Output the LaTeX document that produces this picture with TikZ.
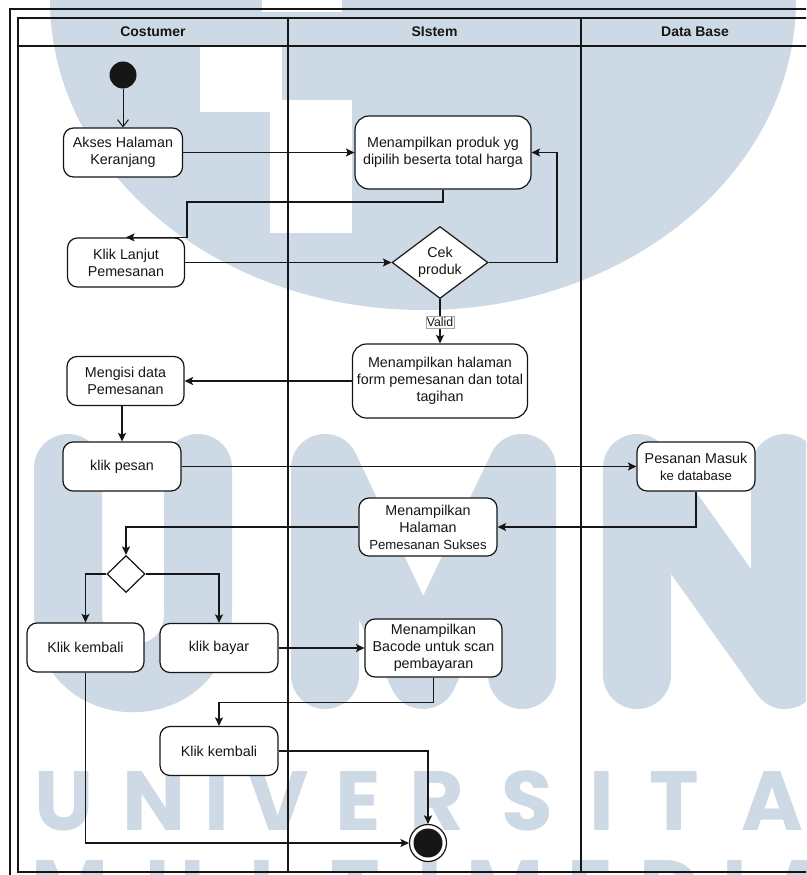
\documentclass[tikz,border=0pt]{standalone}
\usepackage{fontspec}
\setmainfont{Liberation Sans}
\newfontfamily\wmfont{Poppins}
\usetikzlibrary{arrows.meta,shapes.geometric}

\definecolor{wm}{RGB}{205,217,228}
\definecolor{ink}{RGB}{22,22,22}

\newcommand\fsz{\fontsize{14.3pt}{17pt}\selectfont}
\newcommand\fsm{\fontsize{13.2pt}{16pt}\selectfont}
\newcommand\fhd{\fontsize{14pt}{17pt}\selectfont\bfseries}
\newcommand\fvl{\fontsize{12.3pt}{14pt}\selectfont}

\tikzset{
  act/.style={draw=ink, line width=1.2pt, fill=white, rounded corners=10pt,
              align=center, font=\fsz, text=ink, inner sep=0pt},
  dec/.style={draw=ink, line width=1.2pt, fill=white, diamond, inner sep=0pt},
  arr/.style={draw=ink, line width=1.15pt,
              -{Stealth[length=8.5pt,width=8pt,inset=1.8pt]}},
  arropen/.style={draw=ink, line width=1pt, -{Straight Barb[length=7pt,width=11pt]}},
  lane/.style={draw=ink, line width=1.2pt},
  hd/.style={font=\fhd, text=ink},
  guard/.style={fill=white, draw=black!35, line width=0.5pt, font=\fvl,
                text=ink, inner xsep=1pt, inner ysep=1.2pt},
  wmbar/.style={draw=wm, line width=68pt, line cap=round, line join=round},
  wmletter/.style={text=wm, font=\wmfont\bfseries\fontsize{84pt}{84pt}\selectfont,
                   anchor=base, inner sep=0pt},
}

\begin{document}
\begin{tikzpicture}[x=1pt,y=-1pt]
\clip (0,0) rectangle (806,875);
\fill[white] (0,0) rectangle (806,875);

% ---- faint logo in the background ----
\fill[wm] (423,0) ellipse [x radius=373pt, y radius=310pt];
\fill[white] (262,0) rectangle (342,12);
\fill[white] (200,47) rectangle (282,112);
\fill[white] (270,100) rectangle (352,233);
\draw[wmbar] (68,468) -- (68,613) .. controls (68,700) and (198,700) .. (198,613) -- (198,468);
\draw[wmbar] (325,675) -- (325,468) -- (423,675) -- (522,468) -- (522,675);
\draw[wmbar] (637,675) -- (637,468) -- (785,675) -- (785,468);
\foreach \ch/\cx in {U/64,N/154,I/217,V/278,E/358,R/437,S/527,I/602,T/674,A/772,S/860}
  \node[wmletter] at (\cx,830) {\ch};
\foreach \ch/\cx in {M/70,U/175,L/270,T/355,I/430,M/505,E/590,D/670,I/735,A/800}
  \node[wmletter] at (\cx,919) {\ch};

% ---- frame and swimlanes ----
\draw[lane] (10,900) -- (10,9) -- (830,9);
\draw[lane] (18,872) rectangle (830,18);
\draw[lane] (18,46) -- (830,46);
\draw[lane] (288,18) -- (288,872);
\draw[lane] (581,18) -- (581,872);
\node[hd] (hc) at (153,32) {Costumer};
\node[hd] (hs) at (434.5,32) {SIstem};
\node[hd] (hb) at (695,32) {Data Base};

% ---- activities ----
\node[circle, fill=ink, minimum size=27pt, inner sep=0pt] (start) at (123,75) {};
\node[act, minimum width=119pt, minimum height=49pt] (akses) at (123,152.5) {Akses Halaman\\Keranjang};
\node[act, minimum width=176pt, minimum height=73pt, rounded corners=14pt] (prod) at (443,152.5) {Menampilkan produk yg\\dipilih beserta total harga};
\node[act, minimum width=117pt, minimum height=49pt] (lanjut) at (126,262.5) {Klik Lanjut\\Pemesanan};
\node[dec, minimum width=96pt, minimum height=72pt,
      label={[font=\fsz, text=ink, align=center]center:Cek\\produk}] (cek) at (440,262.5) {};
\node[act, minimum width=175pt, minimum height=74pt, rounded corners=14pt] (form) at (440,381) {Menampilkan halaman\\form pemesanan dan total\\tagihan};
\node[act, minimum width=117pt, minimum height=49pt] (isi) at (125.5,381) {Mengisi data\\Pemesanan};
\node[act, minimum width=118pt, minimum height=49pt] (pesan) at (122,466.5) {klik pesan};
\node[act, minimum width=118pt, minimum height=49pt] (masuk) at (696,466.5) {Pesanan Masuk\\{\fsm ke database}};
\node[act, minimum width=138pt, minimum height=58pt] (sukses) at (428,527) {Menampilkan\\Halaman\\{\fsm Pemesanan Sukses}};
\node[dec, minimum width=38pt, minimum height=37pt] (gate) at (126,574) {};
\node[act, minimum width=117pt, minimum height=49pt] (kem1) at (85.5,647.5) {Klik kembali};
\node[act, minimum width=118pt, minimum height=49pt] (bayar) at (219,648) {klik bayar};
\node[act, minimum width=137pt, minimum height=58pt] (bar) at (433.5,648) {Menampilkan\\Bacode untuk scan\\pembayaran};
\node[act, minimum width=118pt, minimum height=49pt] (kem2) at (219,751) {Klik kembali};
\node[circle, draw=ink, fill=white, line width=1.2pt, minimum size=37pt, inner sep=0pt] (end) at (428,843) {};
\fill[ink] (end.center) circle (14.5pt);

% ---- flows ----
\coordinate (jA) at (187,202);
\coordinate (jB) at (557,0);
\draw[arropen] (start) -- (akses);
\draw[arr] (akses) -- (prod);
\draw[arr] (prod.south) -- (prod.south |- jA) -- (jA) -- (jA |- lanjut.north) -- (lanjut.north);
\draw[arr] (lanjut) -- (cek);
\draw[arr] (cek.east) -- (cek.east -| jB) -- (prod.east -| jB) -- (prod.east);
\draw[arr] (cek) -- node[guard, pos=0.52] {Valid} (form);
\draw[arr] (form) -- (isi);
\draw[arr] (isi.south -| pesan.north) -- (pesan.north);
\draw[arr] (pesan) -- (masuk);
\draw[arr] (masuk.south) |- (sukses.east);
\draw[arr] (sukses.west) -| (gate.north);
\draw[arr] (gate.west) -| (kem1.north);
\draw[arr] (gate.east) -| (bayar.north);
\draw[arr] (bayar) -- (bar);
\draw[arr] (bar.south) -- ++(0,25) -| (kem2.north);
\draw[arr] (kem2.east) -| (end.north);
\draw[arr] (kem1.south) |- (end.west);
\end{tikzpicture}
\end{document}
